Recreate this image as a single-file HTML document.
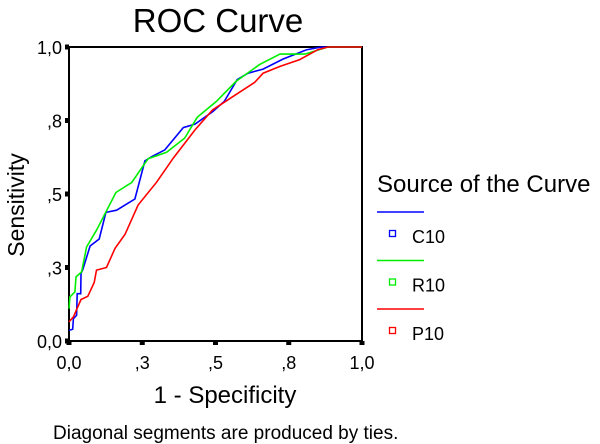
<!DOCTYPE html>
<html><head><meta charset="utf-8"><style>
html,body{margin:0;padding:0;background:#fff;}
svg{display:block;font-family:"Liberation Sans",Arial,sans-serif;}
</style></head><body>
<svg id="chart" width="600" height="444" viewBox="0 0 600 444">
<text x="218" y="32" font-size="33" text-anchor="middle">ROC Curve</text>
<g id="axes"></g>
<g id="series"></g>
<text transform="translate(24,205) rotate(-90)" font-size="23" text-anchor="middle">Sensitivity</text>
<text x="225" y="403" font-size="24" text-anchor="middle">1 - Specificity</text>
<text x="53" y="439" font-size="19">Diagonal segments are produced by ties.</text>
<g>
<text x="377" y="192" font-size="24">Source of the Curve</text>
<g id="legend"></g>
</g>
</svg>
<script>
const tickValues=[0,0.25,0.5,0.75,1];
const tickLabels=["0,0",",3",",5",",8","1,0"];
const seriesNames=["C10","R10","P10"];
const seriesColors=["#0000ff","#00ee00","#ff0000"];
const c10x=[0,0.0125,0.015,0.026,0.028,0.04,0.041,0.047,0.072,0.103,0.126,0.1625,0.225,0.259,0.282,0.327,0.39,0.43,0.49,0.53,0.574,0.611,0.6625,0.73,0.81,0.861,1];
const c10y=[0.036,0.04,0.076,0.0875,0.161,0.161,0.23,0.243,0.323,0.347,0.4375,0.445,0.483,0.6125,0.627,0.65,0.726,0.7375,0.78,0.815,0.889,0.911,0.925,0.959,0.99,1,1];
const r10x=[0,0.003,0.02,0.024,0.043,0.06,0.094,0.16,0.214,0.27,0.333,0.395,0.4375,0.503,0.57,0.65,0.72,0.805,0.884,1];
const r10y=[0.11,0.15,0.167,0.218,0.235,0.32,0.377,0.505,0.539,0.62,0.642,0.69,0.761,0.815,0.883,0.94,0.976,0.976,1,1];
const p10x=[0,0.015,0.041,0.064,0.086,0.094,0.128,0.157,0.191,0.236,0.299,0.356,0.43,0.49,0.56,0.634,0.6625,0.72,0.7875,0.85,0.884,1];
const p10y=[0.065,0.082,0.141,0.152,0.199,0.241,0.25,0.315,0.3625,0.4625,0.54,0.622,0.718,0.786,0.832,0.88,0.911,0.934,0.957,0.991,1,1];
const X0=69,X1=362,Y0=341,Y1=47;
const sx=v=>X0+v*(X1-X0), sy=v=>Y0-v*(Y0-Y1);
const NS="http://www.w3.org/2000/svg";
function mk(tag,attrs,parent){const e=document.createElementNS(NS,tag);for(const k in attrs)e.setAttribute(k,attrs[k]);parent.appendChild(e);return e;}
const axes=document.getElementById('axes');
const frame=mk('rect',{x:X0,y:Y1,width:X1-X0,height:Y0-Y1,fill:'none',stroke:'#000','stroke-width':2},axes);


tickValues.forEach((v,i)=>{
  const tx=mk('rect',{x:sx(v)-2.5,y:Y0,width:5,height:4,fill:'#000'},axes);
  
  
  const lx=mk('text',{x:sx(v),y:369,'font-size':18,'text-anchor':'middle'},axes);
  lx.textContent=tickLabels[i];
  
  
  const ty=mk('rect',{x:X0-4,y:sy(v)-2.5,width:4,height:5,fill:'#000'},axes);
  
  
  const ly=mk('text',{x:62,y:sy(v)+7,'font-size':18,'text-anchor':'end'},axes);
  ly.textContent=tickLabels[i];
  
  
});
const seriesG=document.getElementById('series');
[[c10x,c10y],[r10x,r10y],[p10x,p10y]].forEach((d,i)=>{
  const pts=d[0].map((x,j)=>sx(x).toFixed(1)+','+sy(d[1][j]).toFixed(1)).join(' ');
  const pl=mk('polyline',{points:pts,fill:'none',stroke:seriesColors[i],'stroke-width':1.6},seriesG);
  
  
});
const leg=document.getElementById('legend');
seriesNames.forEach((n,i)=>{
  const y=212+i*48.5;
  const ln=mk('line',{x1:377,x2:424,y1:y,y2:y,stroke:seriesColors[i],'stroke-width':1.6},leg);
  
  
  const sq=mk('rect',{x:389.5,y:y+18.5,width:6,height:6,fill:'none',stroke:seriesColors[i],'stroke-width':1.3},leg);
  
  
  const t=mk('text',{x:412,y:y+31,'font-size':18},leg);
  t.textContent=n;
  
  
});
</script>
</body></html>
